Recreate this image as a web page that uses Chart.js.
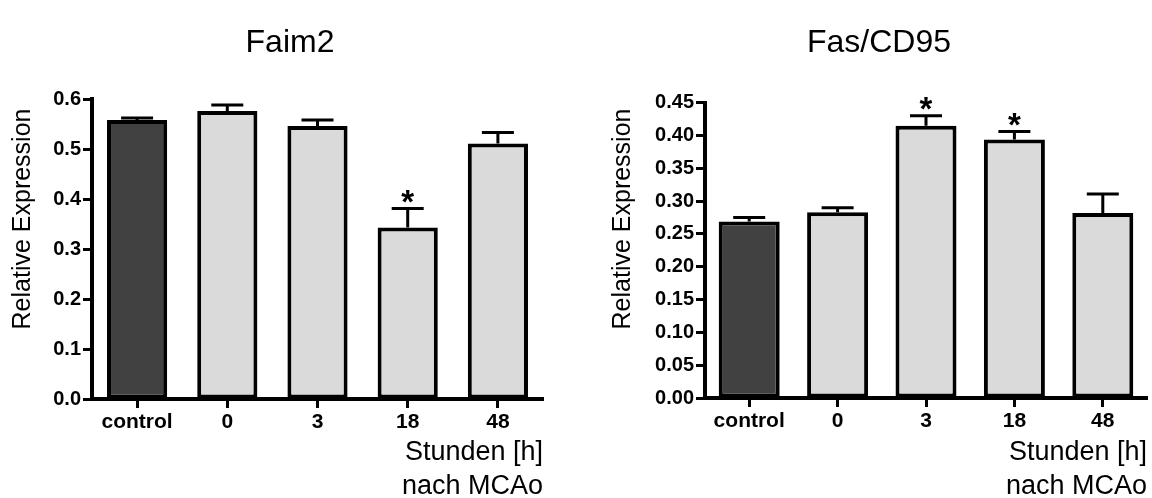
<!DOCTYPE html>
<html><head><meta charset="utf-8">
<script src="https://cdn.jsdelivr.net/npm/chart.js@4/dist/chart.umd.min.js"></script>
<style>
html,body{margin:0;padding:0;background:#fff;width:1152px;height:498px;overflow:hidden;}
canvas{position:absolute;top:0;}
#c1{left:0;} #c2{left:600px;}
</style></head><body>
<canvas id="c1" width="576" height="498"></canvas>
<canvas id="c2" width="552" height="498"></canvas>
<script>
const categories = ['control', '0', '3', '18', '48'];

const faim2Values = [0.558, 0.576, 0.546, 0.343, 0.511];
const faim2Errors = [0.004, 0.012, 0.012, 0.038, 0.022];
const faim2Significant = [false, false, false, true, false];
const faim2Ticks = ['0.0', '0.1', '0.2', '0.3', '0.4', '0.5', '0.6'];

const fasValues = [0.269, 0.283, 0.415, 0.394, 0.282];
const fasErrors = [0.006, 0.007, 0.015, 0.012, 0.029];
const fasSignificant = [false, false, true, true, false];
const fasTicks = ['0.00', '0.05', '0.10', '0.15', '0.20', '0.25', '0.30', '0.35', '0.40', '0.45'];

const barColors = ['#414141', '#d9dad9', '#d9dad9', '#d9dad9', '#d9dad9'];
const yAxisTitle = 'Relative Expression';
const xAxisTitle = ['Stunden [h]', 'nach MCAo'];

const FONT = '"Liberation Sans", Arial, Helvetica, sans-serif';
Chart.defaults.font.family = FONT;
Chart.defaults.color = '#000';

const extras = {
  id: 'extras',
  afterDatasetsDraw(chart, args, opts) {
    const ctx = chart.ctx;
    const meta = chart.getDatasetMeta(0);
    const y = chart.scales.y;
    ctx.save();
    ctx.strokeStyle = '#000';
    ctx.fillStyle = '#000';
    ctx.lineWidth = 3;
    opts.values.forEach((v, i) => {
      const x = meta.data[i].x;
      const top = y.getPixelForValue(v);
      const et = y.getPixelForValue(v + opts.errors[i]);
      ctx.beginPath();
      ctx.moveTo(x, top); ctx.lineTo(x, et);
      ctx.moveTo(x - 16, et); ctx.lineTo(x + 16, et);
      ctx.stroke();
      if (opts.sig[i]) {
        ctx.font = 'bold 33px ' + FONT;
        ctx.textAlign = 'center';
        ctx.textBaseline = 'alphabetic';
        ctx.fillText('*', x, et + 4);
      }
    });
    ctx.translate(opts.titleX, opts.titleY);
    ctx.rotate(-Math.PI / 2);
    ctx.font = '25px ' + FONT;
    ctx.textAlign = 'center';
    ctx.textBaseline = 'middle';
    ctx.fillText(opts.yTitle, 0, 0);
    ctx.restore();
  }
};

function makeChart(id, title, values, errors, sig, tickLabels, yMax, yStep, padLeft, yWidth, padRight, titleBottom, xHeight, barPct) {
  return new Chart(document.getElementById(id), {
    type: 'bar',
    data: {
      labels: categories,
      datasets: [{
        data: values,
        backgroundColor: barColors,
        borderColor: '#000',
        borderWidth: 4,
        borderSkipped: false,
        barPercentage: barPct,
        categoryPercentage: 1
      }]
    },
    options: {
      responsive: false,
      animation: false,
      layout: { padding: { left: padLeft, right: padRight, top: 0, bottom: 0 } },
      plugins: {
        legend: { display: false },
        tooltip: { enabled: false },
        title: {
          display: true, text: title, color: '#000',
          font: { size: 32, weight: 'normal', lineHeight: 1.2 },
          padding: { top: 24, bottom: titleBottom }
        },
        extras: { values, errors, sig, yTitle: yAxisTitle, titleX: 23, titleY: 219 }
      },
      scales: {
        x: {
          offset: true,
          ticks: { color: '#000', font: { size: 21, weight: 'bold' }, padding: 2, maxRotation: 0, autoSkip: false },
          grid: { offset: false, drawOnChartArea: false, drawTicks: true, tickLength: 9, tickWidth: 3, tickColor: '#000' },
          border: { display: true, color: '#000', width: 4 },
          title: { display: true, text: xAxisTitle, align: 'end', color: '#000', font: { size: 27, lineHeight: 1.25 }, padding: { top: 0, bottom: -5 } },
          afterFit: s => { s.height = xHeight; }
        },
        y: {
          min: 0, max: yMax,
          ticks: { stepSize: yStep, color: '#000', font: { size: 20, weight: 'bold' }, padding: 2,
                   callback: (v, i) => tickLabels[i] },
          grid: { drawOnChartArea: false, drawTicks: true, tickLength: 9, tickWidth: 3, tickColor: '#000' },
          border: { display: true, color: '#000', width: 4 },
          afterFit: s => { s.width = yWidth; }
        }
      }
    },
    plugins: [extras]
  });
}

makeChart('c1', 'Faim2', faim2Values, faim2Errors, faim2Significant, faim2Ticks, 0.6, 0.1, 37, 55, 33, 36.6, 99, 0.667);
makeChart('c2', 'Fas/CD95', fasValues, fasErrors, fasSignificant, fasTicks, 0.45, 0.05, 11, 94, 5, 40.3, 100, 0.69);
</script>
</body></html>
